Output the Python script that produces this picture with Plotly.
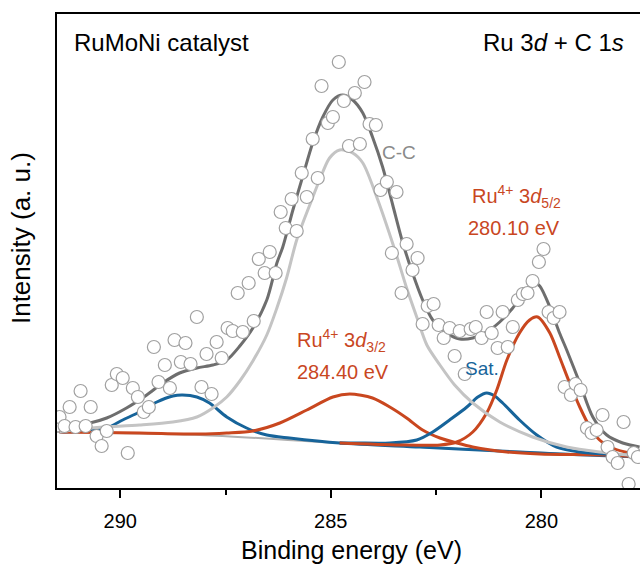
import plotly.graph_objects as go

# ---- measured data points (binding energy eV, intensity a.u.) ----
data_be = [291.44, 291.32, 291.20, 291.06, 290.94, 290.82, 290.70, 290.56, 290.44, 290.32,
           290.20, 290.08, 289.94, 289.82, 289.70, 289.58, 289.44, 289.32, 289.20, 289.09,
           288.94, 288.82, 288.71, 288.56, 288.45, 288.33, 288.18, 288.07, 287.95, 287.83,
           287.71, 287.59, 287.45, 287.33, 287.21, 287.09, 286.95, 286.83, 286.71, 286.57,
           286.45, 286.31, 286.19, 286.07, 285.93, 285.81, 285.69, 285.57, 285.43, 285.31,
           285.22, 285.07, 284.95, 284.81, 284.69, 284.57, 284.43, 284.31, 284.20, 284.08,
           283.93, 283.82, 283.67, 283.55, 283.44, 283.32, 283.20, 283.06, 282.94, 282.82,
           282.70, 282.56, 282.44, 282.32, 282.18, 282.06, 281.94, 281.82, 281.68, 281.56,
           281.42, 281.30, 281.18, 281.04, 280.92, 280.80, 280.68, 280.56, 280.44, 280.33,
           280.21, 280.06, 279.95, 279.83, 279.71, 279.57, 279.45, 279.30, 279.19, 279.07,
           278.92, 278.81, 278.69, 278.55, 278.43, 278.31, 278.19, 278.05, 277.93, 277.81,
           277.71]
data_int = [7.1, 6.2, 8.1, 6.1, 9.7, 6.2, 8.1, 5.2, 4.2, 5.7,
            10.3, 11.4, 11.0, 3.5, 10.0, 9.1, 7.6, 8.1, 14.1, 10.6,
            12.3, 10.0, 14.8, 12.6, 14.5, 12.4, 17.1, 10.1, 13.4, 9.4,
            14.6, 13.0, 16.0, 15.7, 19.5, 15.6, 20.5, 16.7, 22.9, 21.5,
            23.6, 21.5, 27.6, 26.0, 28.9, 25.7, 31.5, 29.1, 34.9, 31.0,
            40.2, 36.5, 37.1, 42.6, 38.7, 34.2, 39.5, 34.4, 40.6, 36.4,
            36.3, 29.8, 30.6, 23.5, 29.6, 19.5, 24.4, 21.8, 23.0, 16.4,
            18.2, 18.4, 16.3, 15.0, 16.0, 13.2, 15.7, 11.4, 15.9, 16.1,
            15.0, 17.6, 15.5, 14.0, 17.6, 14.1, 16.1, 18.8, 19.4, 19.5,
            20.7, 22.6, 23.9, 17.6, 17.0, 17.6, 10.1, 9.3, 10.4, 9.8,
            6.0, 5.5, 5.8, 7.3, 4.1, 3.1, 2.5, 6.6, 0.4, 3.5,
            3.1]

# ---- fitted curves ----
env_be = [291.44, 290.72, 290.32, 289.85, 289.37, 288.99, 288.59, 288.18, 287.80, 287.47,
          287.16, 286.85, 286.52, 286.28, 286.14, 285.90, 285.67, 285.43, 285.19, 284.95,
          284.72, 284.48, 284.24, 284.01, 283.77, 283.53, 283.29, 283.06, 282.82, 282.58,
          282.25, 281.94, 281.63, 281.30, 280.99, 280.68, 280.44, 280.16, 280.04, 279.80,
          279.57, 279.40, 279.09, 278.78, 278.45, 278.07, 277.67]
env_int = [6.1, 6.5, 7.0, 8.0, 9.3, 10.5, 11.5, 12.0, 12.3, 12.8,
           14.2, 16.0, 18.8, 22.5, 24.1, 27.8, 31.1, 34.5, 37.1, 38.8,
           39.3, 38.8, 37.5, 35.1, 32.1, 28.3, 24.5, 21.5, 18.8, 16.8,
           15.5, 14.9, 15.0, 15.6, 16.6, 18.0, 19.3, 20.5, 20.2, 18.1,
           15.5, 13.8, 10.5, 7.1, 5.3, 4.5, 4.1]

cc_be = [291.44, 290.72, 289.54, 288.75, 288.18, 287.80, 287.47, 287.16, 286.85, 286.52,
         286.28, 286.05, 285.81, 285.50, 285.19, 285.03, 284.79, 284.48, 284.24, 283.91,
         283.48, 283.20, 282.96, 282.72, 282.41, 282.06, 281.63, 280.99, 280.21, 279.40,
         278.62, 277.67]
cc_int = [5.6, 6.0, 6.3, 6.6, 7.1, 8.0, 9.1, 10.7, 12.7, 15.3,
          18.0, 21.0, 24.8, 28.3, 31.6, 33.0, 33.8, 33.5, 32.5, 29.1,
          23.8, 20.0, 17.1, 14.3, 12.3, 10.3, 8.5, 6.6, 5.1, 4.1,
          3.6, 3.2]

bg_be = [291.51, 288.11, 284.79, 280.99, 277.67]
bg_int = [5.6, 5.3, 4.5, 3.7, 3.1]

blue1_be = [291.44, 290.72, 290.32, 289.94, 289.54, 289.13, 288.75, 288.52, 288.18, 287.88,
            287.47, 287.00, 286.52, 285.98, 284.79, 282.89, 280.99, 279.57, 277.67]
blue1_int = [5.6, 5.7, 6.0, 6.8, 7.6, 8.6, 9.2, 9.3, 9.1, 8.5,
             7.1, 6.0, 5.3, 5.0, 4.5, 4.1, 3.7, 3.4, 3.1]

sat_be = [284.79, 284.39, 283.60, 282.96, 282.58, 282.18, 281.77, 281.51, 281.30, 281.11,
          280.92, 280.52, 280.11, 279.64, 279.09, 278.45, 277.67]
sat_int = [4.5, 4.5, 4.5, 4.8, 5.6, 6.8, 8.1, 9.1, 9.5, 9.2,
           8.5, 6.8, 5.3, 4.1, 3.6, 3.4, 3.3]

ru32_be = [291.44, 289.54, 288.11, 287.47, 286.85, 286.21, 285.57, 284.95, 284.55, 284.01,
           283.60, 283.20, 282.82, 282.41, 282.01, 281.63, 280.82, 280.04, 278.45, 277.67]
ru32_int = [5.6, 5.5, 5.4, 5.5, 5.7, 6.5, 7.8, 9.1, 9.4, 9.0,
            8.1, 7.0, 5.8, 5.0, 4.5, 4.1, 3.6, 3.4, 3.3, 3.1]

ru52_be = [284.79, 283.36, 282.41, 282.01, 281.63, 281.30, 281.06, 280.82, 280.52, 280.28,
           280.09, 279.80, 279.57, 279.33, 279.09, 278.85, 278.62, 278.31, 277.90, 277.67]
ru52_int = [4.5, 4.3, 4.3, 4.6, 5.6, 7.5, 9.8, 12.8, 15.5, 16.8,
            17.1, 15.5, 13.1, 10.5, 8.1, 6.1, 4.8, 4.0, 3.5, 3.4]

x_ticks = [290, 285, 280]

ORANGE = "#c9471f"
BLUE = "#17649a"
LGRAY = "#c4c4c4"
DGRAY = "#6e6e6e"
FONT = "Arial, Liberation Sans, sans-serif"

fig = go.Figure()

def line(x, y, color, width=3):
    fig.add_trace(go.Scatter(x=x, y=y, mode="lines", line=dict(color=color, width=width, shape="spline", smoothing=0.8),
                             hoverinfo="skip", showlegend=False))

line(bg_be, bg_int, "#b0b0b0", 2)
line(blue1_be, blue1_int, BLUE)
line(ru32_be, ru32_int, ORANGE)
line(sat_be, sat_int, BLUE)
line(ru52_be, ru52_int, ORANGE)
line(cc_be, cc_int, LGRAY)
line(env_be, env_int, DGRAY)

fig.add_trace(go.Scatter(x=data_be, y=data_int, mode="markers",
                         marker=dict(symbol="circle", size=13, color="white",
                                     line=dict(color="#a0a0a0", width=1.2)),
                         showlegend=False, hoverinfo="skip"))

ann = []
ann.append(dict(text="RuMoNi catalyst", xref="paper", yref="paper", x=0.026, y=0.939,
                xanchor="left", yanchor="middle", showarrow=False, font=dict(size=24, color="black")))
ann.append(dict(text="Ru 3<i>d</i> + C 1<i>s</i>", xref="paper", yref="paper", x=0.976, y=0.939,
                xanchor="right", yanchor="middle", showarrow=False, font=dict(size=24, color="black")))
ann.append(dict(text="C-C", x=283.39, y=33.6, xanchor="center", yanchor="middle", showarrow=False,
                font=dict(size=19, color="#8a8a8a")))
ann.append(dict(text="Ru<sup>4+</sup> 3<i>d</i><sub>5/2</sub>", x=280.59, y=29.2, xanchor="center",
                yanchor="middle", showarrow=False, font=dict(size=20, color=ORANGE)))
ann.append(dict(text="280.10 eV", x=280.64, y=26.0, xanchor="center", yanchor="middle",
                showarrow=False, font=dict(size=20, color=ORANGE)))
ann.append(dict(text="Ru<sup>4+</sup> 3<i>d</i><sub>3/2</sub>", x=285.86, y=14.8, xanchor="left",
                yanchor="middle", showarrow=False, font=dict(size=20, color=ORANGE)))
ann.append(dict(text="284.40 eV", x=285.86, y=11.6, xanchor="left", yanchor="middle",
                showarrow=False, font=dict(size=20, color=ORANGE)))
ann.append(dict(text="Sat.", x=281.42, y=12.0, xanchor="center", yanchor="middle",
                showarrow=False, font=dict(size=19, color=BLUE)))
ann.append(dict(text="Binding energy (eV)", xref="paper", yref="paper", x=0.506, y=-0.131,
                xanchor="center", yanchor="middle", showarrow=False, font=dict(size=25, color="black")))
ann.append(dict(text="Intensity (a. u.)", xref="paper", yref="paper", x=-0.062, y=0.527,
                xanchor="center", yanchor="middle", textangle=-90, showarrow=False,
                font=dict(size=26, color="black")))

fig.update_layout(
    width=640, height=566,
    margin=dict(l=57, r=0, t=14, b=78),
    paper_bgcolor="white", plot_bgcolor="white",
    font=dict(family=FONT, color="black"),
    annotations=ann,
    xaxis=dict(range=[291.5, 277.66], showgrid=False, zeroline=False,
               showline=True, linecolor="black", linewidth=2, mirror=True,
               ticks="outside", ticklen=8, tickwidth=2, tickcolor="black",
               tickvals=x_ticks, ticktext=[str(t) for t in x_ticks],
               tickfont=dict(size=20), ticklabelstandoff=6,
               minor=dict(dtick=2.5, tick0=280, ticks="outside", ticklen=5, tickwidth=2, tickcolor="black")),
    yaxis=dict(range=[0, 47.4], showgrid=False, zeroline=False,
               showline=True, linecolor="black", linewidth=2, mirror=False,
               showticklabels=False, ticks=""),
)

fig.write_html("out.html")
